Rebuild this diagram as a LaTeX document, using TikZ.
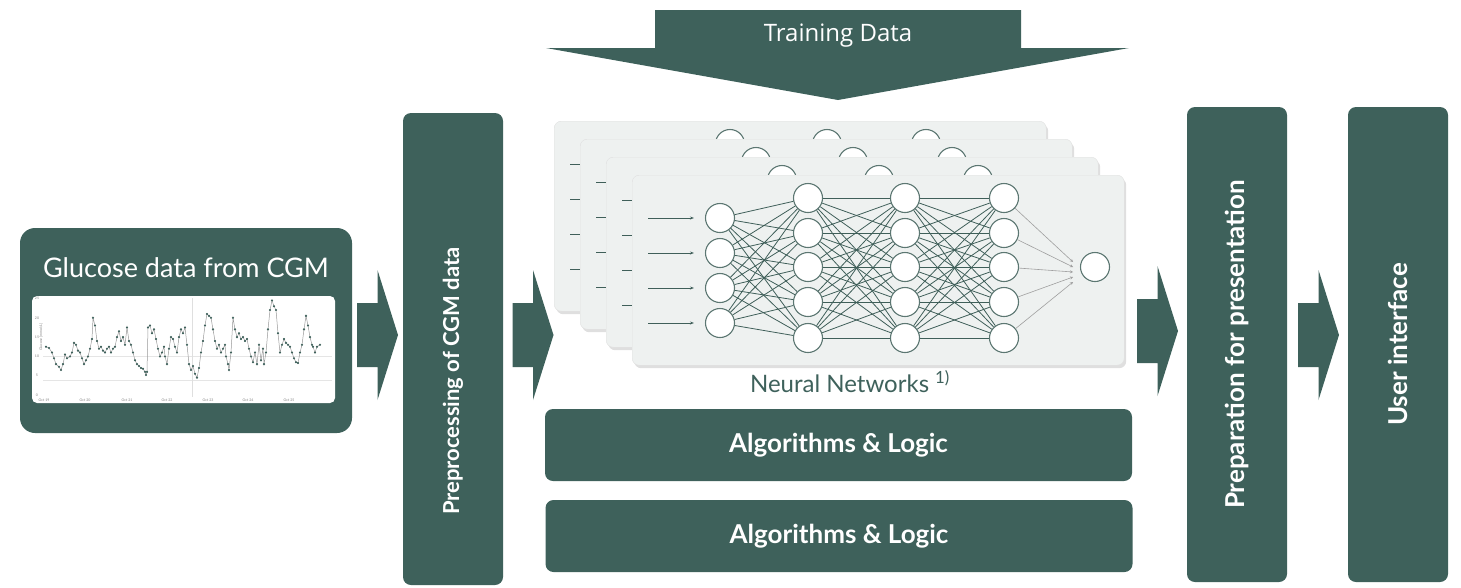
\documentclass[tikz,border=0pt]{standalone}
\usepackage{fontspec}
\setmainfont{Lato}
\newfontfamily\trainfont{Open Sans}
\usetikzlibrary{arrows.meta, positioning, shadows}
\definecolor{dkgreen}{HTML}{3E615B}
\definecolor{panelgray}{HTML}{EEF1F0}
\definecolor{netline}{HTML}{3F5F59}

\begin{document}
\begin{tikzpicture}[x=1pt, y=-1pt,
        box/.style={rectangle, fill=dkgreen, rounded corners=8pt, text=white, inner sep=0pt},
        vbox/.style={box, rotate=90, minimum height=100, font=\bfseries\fontsize{26}{30}\selectfont},
        hbox/.style={box, minimum width=587, minimum height=72, font=\bfseries\fontsize{26}{30}\selectfont},
        panel/.style={rectangle, fill=panelgray, draw=black!12, rounded corners=7pt, minimum width=492, minimum height=190,
            drop shadow={shadow xshift=2pt, shadow yshift=-3pt, opacity=0.25}},
        neuron/.style={circle, draw=netline!85, fill=white, line width=1.1pt, minimum size=29, inner sep=0pt},
        link/.style={draw=netline, line width=0.8pt},
        outlink/.style={draw=gray!75, line width=0.6pt, -{Stealth[length=3pt, width=3pt]}},
        inarrow/.style={draw=netline, line width=0.7pt, shorten >=11pt, -{Stealth[length=4pt, width=3pt]}},
        ticklabel/.style={text=gray, inner sep=0pt, font=\fontsize{3.5}{4}\selectfont},
        blockarrow/.pic={\fill[dkgreen] (-20.5,-32) -- (0,-32) -- (0,-65) -- (20.5,0) -- (0,65) -- (0,32) -- (-20.5,32) -- cycle;}
    ]
        \useasboundingbox (0,0) rectangle (1461,587);

        % input: glucose curve
        \node[box, rounded corners=15pt, minimum width=332, minimum height=205] (glucose) at (186,330.5) {};
        \node[text=white, font=\fontsize{27}{30}\selectfont] (gtitle) at (186,268) {Glucose data from CGM};
        \node[fill=white, rounded corners=5pt, minimum width=303, minimum height=107, inner sep=0pt] (chart) at (183.5,349.5) {};
        \draw[gray!20, line width=0.4pt] (43,356) -- (332,356);
        \draw[gray!20, line width=0.4pt] (43,380) -- (332,380);
        \draw[gray!25, line width=0.4pt] (192,298) -- (192,397);
        \foreach \v in {0,5,...,25}
            \node[ticklabel] (yl\v) at (37,{395-3.86*\v}) {\v};
        \node[ticklabel, rotate=90] (ytitle) at (41,337) {Glucose [mmol/L]};
        \foreach \d/\xx in {19/44,20/85,21/127,22/167,23/208,24/248,25/289}
            \node[ticklabel] (day\d) at (\xx,400) {Oct \d};
        \begin{scope}[shift={(0,395)}, y=3.86pt]
            \draw[gray!80, line width=0.5pt] plot[mark=*, mark size=0.8pt, mark options={fill=dkgreen, draw=dkgreen}] coordinates {
                (46,12.5)(49,12.2)(52,11)(54,9.5)(56,8)(59,7.3)(61,6.5)(63,8)(65,10.5)(67,9.5)(70,10)(72,11)
                (74,13.5)(76,13)(78,11.5)(80,11)(82,9.5)(84,8)(86,9)(88,10)(90,12)(92,14.5)(93,20)(95,18)
                (97,14)(99,12)(101,12.5)(103,11.5)(105,11)(107,12)(109,12.5)(111,11)(113,12)(115,12.5)(117,15)
                (119,16.5)(121,14)(123,15)(125,13)(127,17.5)(129,14)(131,13)(133,11)(135,9)(137,8)(139,7.5)
                (141,7)(143,6.8)(145,6)(146,5.2)(147,6)(148,17.5)(150,18)(152,16)(154,17)(156,14.5)(158,12)
                (160,10)(162,11)(164,12.5)(165,10)(167,8)(169,12)(171,15)(173,14.5)(175,12.5)(177,11)(179,15)
                (181,17)(183,16)(185,17.5)(187,13)(189,8)(191,6.5)(193,7.5)(195,5.5)(197,4.5)(199,7)(201,11)
                (203,14)(205,18)(207,21)(209,20.5)(211,20)(213,17)(215,14)(217,12)(219,13)(221,11)(223,12)
                (225,13)(226,10)(228,8)(229,6.5)(231,11)(233,20)(235,17)(237,15)(239,16)(241,14.5)(243,15)
                (245,14)(247,14.5)(249,12)(251,10)(253,8.5)(255,11)(257,8)(259,13)(261,9)(263,12)(264,8)
                (266,11)(268,17)(270,22)(272,24.5)(274,23)(276,22)(278,16)(280,11)(282,13)(284,14.5)(286,13.5)
                (288,13)(290,12.5)(292,11)(294,9.5)(296,8.5)(298,8.3)(300,11)(302,13)(304,17)(306,20.5)
                (308,18)(310,15)(312,13)(313,12.5)(315,11)(317,12.5)(320,13)};
        \end{scope}

        % processing blocks
        \node[vbox, minimum width=472] (prep) at (453,349) {};
        \node[text=white, rotate=90, font=\bfseries\fontsize{22}{26}\selectfont] (preptext) at (453,381) {Preprocessing of CGM data};
        \node[vbox, minimum width=475] (present) at (1237,344.5) {Preparation for presentation};
        \node[vbox, minimum width=475] (ui) at (1398,344.5) {User interface};
        \node[hbox] (algo1) at (838.5,445) {Algorithms \& Logic};
        \node[hbox] (algo2) at (839,536) {Algorithms \& Logic};

        % stacked networks
        \foreach \p/\px/\py in {1/554/121, 2/580/139, 3/606/157, 4/632/175} {
            \begin{scope}[shift={(\px,\py)}]
                \node[panel, anchor=north west] (panel\p) at (0,0) {};
                \foreach \i/\yy in {1/43,2/78,3/113,4/148} {
                    \node[neuron] (in\p-\i) at (88,\yy) {};
                    \coordinate (src\p-\i) at (16,\yy);
                    \draw[inarrow] (src\p-\i) -- (in\p-\i);
                }
                \foreach \l/\xx in {1/176,2/273,3/372}
                    \foreach \i/\yy in {1/23,2/58,3/92,4/127,5/163}
                        \node[neuron] (h\p-\l-\i) at (\xx,\yy) {};
                \node[neuron] (out\p) at (463,92) {};
                \foreach \i in {1,...,4}
                    \foreach \j in {1,...,5}
                        \draw[link] (in\p-\i) -- (h\p-1-\j);
                \foreach \l/\m in {1/2,2/3}
                    \foreach \i in {1,...,5}
                        \foreach \j in {1,...,5}
                            \draw[link] (h\p-\l-\i) -- (h\p-\m-\j);
                \foreach \i in {1,...,5} {
                    \coordinate (tip\p-\i) at (441,{82+\i*5});
                    \draw[outlink] (h\p-3-\i) -- (tip\p-\i);
                }
            \end{scope}
        }
        \node[text=dkgreen, font=\fontsize{24}{28}\selectfont] (nnlabel) at (850,382) {Neural Networks \textsuperscript{1)}};

        % training data
        \fill[dkgreen] (655,10) -- (1021,10) -- (1021,48) -- (1129,48) -- (838,100) -- (546,48) -- (655,48) -- cycle;
        \node[text=white, font=\trainfont\fontsize{24}{28}\selectfont] (train) at (838,36) {Training Data};

        % flow arrows
        \pic at (377.5,335) {blockarrow};
        \pic at (533,335) {blockarrow};
        \pic at (1157.5,331) {blockarrow};
        \pic at (1318.5,335) {blockarrow};
    \end{tikzpicture}
\end{document}
